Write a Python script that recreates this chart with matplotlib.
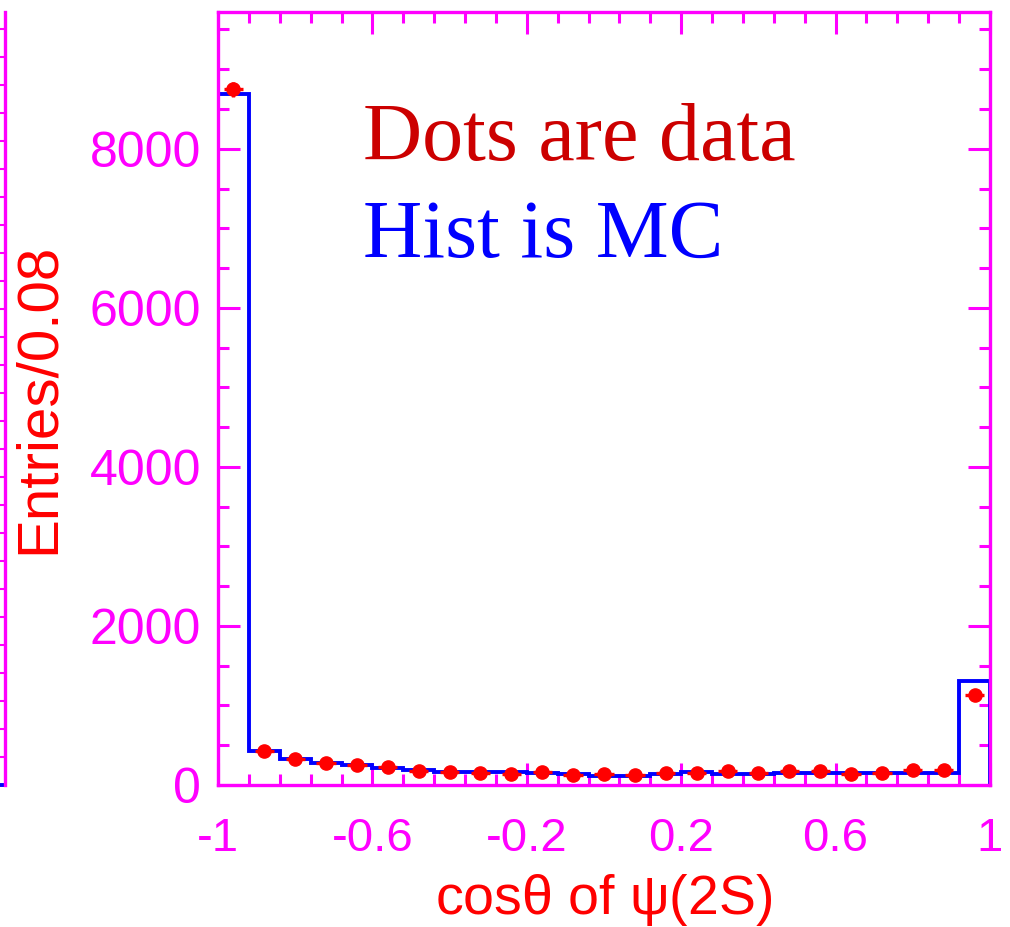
import numpy as np
import matplotlib
matplotlib.use("Agg")
import matplotlib.pyplot as plt
from matplotlib.ticker import MultipleLocator, FixedLocator, FuncFormatter

plt.rcParams['axes.unicode_minus'] = False

# 25 bins of width 0.08 in cos(theta)
edges = np.linspace(-1, 1, 26)
centers = 0.5 * (edges[:-1] + edges[1:])

# MC histogram contents
mc_counts = [8690, 430, 322, 277, 252, 212, 185, 165, 160, 158, 155, 134, 111, 109,
             134, 159, 138, 138, 155, 155, 155, 155, 155, 155, 1308]
# data points
data_counts = [8750, 424, 326, 273, 252, 222, 182, 159, 147, 134, 166, 122, 134, 126,
               147, 147, 176, 155, 176, 176, 143, 155, 193, 184, 1132]

x_major = [-1, -0.6, -0.2, 0.2, 0.6, 1]

magenta = '#ff00ff'

fig = plt.figure(figsize=(10.10, 9.27), dpi=100)
ax = fig.add_axes([218 / 1010, 142 / 927, 772 / 1010, 773 / 927])

# MC as a step histogram
ax.stairs(mc_counts, edges, baseline=0, color='#0000ff', lw=2.8, zorder=2)

# data with sqrt(N) errors
ax.errorbar(centers, data_counts, yerr=np.sqrt(data_counts), xerr=0.025,
            fmt='o', color='#ff0000', ms=9.5, elinewidth=2.4, capsize=0, zorder=3)

ax.set_xlim(-1, 1)
ax.set_ylim(0, 9720)

for s in ax.spines.values():
    s.set_color(magenta)
    s.set_linewidth(2.4)

ax.xaxis.set_major_locator(FixedLocator(x_major))
ax.xaxis.set_minor_locator(FixedLocator(edges))
ax.yaxis.set_major_locator(MultipleLocator(2000))
ax.yaxis.set_minor_locator(MultipleLocator(500))
ax.xaxis.set_major_formatter(FuncFormatter(lambda v, p: '%g' % round(v, 2)))

ax.tick_params(which='both', direction='in', top=True, right=True,
               color=magenta, width=2.2, labelcolor=magenta, labelsize=35)
ax.tick_params(which='major', length=16)
ax.tick_params(which='minor', length=8)
ax.tick_params(axis='x', which='major', pad=23, labelsize=34)
ax.tick_params(axis='y', which='major', pad=12, labelsize=36)
for lab in ax.get_xticklabels() + ax.get_yticklabels():
    lab.set_fontfamily('Liberation Sans')

ax.set_xlabel(r'cos$\mathregular{\theta}$ of $\mathregular{\psi}$(2S)', color='#ff0000',
              fontsize=40, family='Liberation Sans', labelpad=8)
ax.set_ylabel('Entries/0.08', color='#ff0000', fontsize=42,
              family='Liberation Sans', labelpad=17)

ax.text(0.188, 0.808, 'Dots are data', transform=ax.transAxes, color='#cc0000',
        fontsize=59, family='Liberation Serif', va='baseline')
ax.text(0.188, 0.683, 'Hist is MC', transform=ax.transAxes, color='#0000ff',
        fontsize=59, family='Liberation Serif', va='baseline')

# edge of the neighbouring panel on the left
ax2 = fig.add_axes([-0.5, 142 / 927, 0.5 + 5 / 1010, 773 / 927])
ax2.set_xlim(0, 1)
ax2.set_ylim(0, 773)
for side in ['left', 'top', 'bottom']:
    ax2.spines[side].set_visible(False)
ax2.spines['right'].set_color(magenta)
ax2.spines['right'].set_linewidth(2.4)
ax2.plot([0.9, 1], [0, 0], color='#0000ff', lw=2.8, clip_on=False)
ax2.set_xticks([])
ax2.yaxis.set_major_locator(MultipleLocator(28))
ax2.yaxis.tick_right()
ax2.tick_params(axis='y', direction='in', length=5, width=1.5, color=magenta,
                labelright=False)

fig.savefig('out.png', dpi=100)
